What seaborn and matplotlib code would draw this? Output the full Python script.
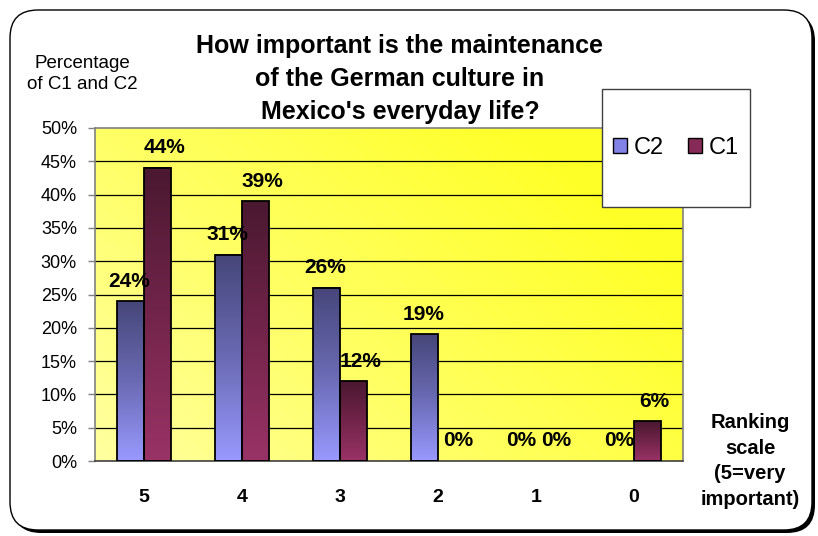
import numpy as np
import pandas as pd
import matplotlib
matplotlib.use("Agg")
import matplotlib.pyplot as plt
import seaborn as sns
from matplotlib.patches import FancyBboxPatch, Rectangle, Patch
from matplotlib.colors import LinearSegmentedColormap

# Survey answers per ranking level (percent of respondents)
rankings = ["5", "4", "3", "2", "1", "0"]
c2_pct = [24, 31, 26, 19, 0, 0]
c1_pct = [44, 39, 12, 0, 0, 6]
series = ["C2", "C1"]
y_ticks = [0, 5, 10, 15, 20, 25, 30, 35, 40, 45, 50]

title = "How important is the maintenance\nof the German culture in\nMexico's everyday life?"
y_title = "Percentage\nof C1 and C2"
x_title = "Ranking\nscale\n(5=very\nimportant)"

sns.set_theme(style="white")
plt.rcParams["font.family"] = ["Liberation Sans", "DejaVu Sans"]
for key in ["text.color", "axes.labelcolor", "xtick.color", "ytick.color"]:
    plt.rcParams[key] = "black"

W, H = 818, 536
fig = plt.figure(figsize=(W / 100, H / 100), dpi=100)
fig.patch.set_facecolor("white")

# rounded chart frame with a drop shadow
shadow = FancyBboxPatch((13, 3), 802, 520, boxstyle="round,pad=0,rounding_size=28",
                        transform=None, facecolor="black", edgecolor="none", zorder=-2)
frame = FancyBboxPatch((10, 6), 802, 520, boxstyle="round,pad=0,rounding_size=28",
                       transform=None, facecolor="white", edgecolor="black",
                       linewidth=1.0, zorder=-1)
fig.patches.extend([shadow, frame])

ax = fig.add_axes([95 / W, 1 - 461 / H, (683 - 95) / W, (461 - 128) / H])

df = pd.DataFrame({
    "Ranking": rankings * 2,
    "Percent": c2_pct + c1_pct,
    "Group": [series[0]] * len(rankings) + [series[1]] * len(rankings),
})

sns.barplot(data=df, x="Ranking", y="Percent", hue="Group", order=rankings,
            hue_order=series, palette=["#9999ff", "#993366"], width=0.55,
            edgecolor="black", linewidth=1.3, ax=ax, legend=False, zorder=3)

ax.set_xlim(-0.5, len(rankings) - 0.5)
ax.set_ylim(0, 50)

# plot-area background: diagonal yellow gradient
bg_cmap = LinearSegmentedColormap.from_list("bg", ["#ffffa0", "#ffff60", "#ffff28"])
gx, gy = np.meshgrid(np.linspace(0, 1, 200), np.linspace(0, 1, 200))
ax.imshow(np.clip(gx * 0.75 + gy * 0.45, 0, 1), extent=[0, 1, 0, 1],
          transform=ax.transAxes, origin="lower", cmap=bg_cmap, aspect="auto",
          zorder=0, interpolation="bilinear")

# vertical gradient fill for each bar, value label above it
bar_cmaps = [
    LinearSegmentedColormap.from_list("c2", ["#9999ff", "#6a6ab4", "#46467a"]),
    LinearSegmentedColormap.from_list("c1", ["#993366", "#72244a", "#4a1830"]),
]
label_dx = [-1, 7]
grad = np.linspace(0, 1, 256).reshape(-1, 1)
for container, cmap, values, dx in zip(ax.containers, bar_cmaps, [c2_pct, c1_pct], label_dx):
    for bar, v in zip(container, values):
        x0, w, h = bar.get_x(), bar.get_width(), bar.get_height()
        if h > 0:
            ax.imshow(grad, extent=[x0, x0 + w, 0, h], origin="lower", cmap=cmap,
                      aspect="auto", zorder=2, interpolation="bilinear")
        else:
            bar.set_linewidth(0)
        bar.set_facecolor("none")
        ax.annotate(f"{v}%", (x0 + w / 2, h), xytext=(dx, 20), textcoords="offset pixels",
                    ha="center", va="center", fontsize=15, fontweight="bold",
                    color="black", zorder=5)

ax.set_xlim(-0.5, len(rankings) - 0.5)
ax.set_ylim(0, 50)

# horizontal gridlines
for t in y_ticks[1:-1]:
    ax.axhline(t, color="black", linewidth=0.9, zorder=1)

ax.set_yticks(y_ticks)
ax.set_yticklabels([f"{t}%" for t in y_ticks], fontsize=13)
ax.set_xticks(range(len(rankings)))
ax.set_xticklabels(rankings, fontsize=14, fontweight="bold")
ax.set_xticks(np.arange(-0.5, len(rankings)), minor=True)
ax.tick_params(axis="x", which="major", length=0, pad=20)
ax.tick_params(axis="x", which="minor", length=5, width=1, color="#808080", direction="out")
ax.tick_params(axis="y", which="major", length=5, width=1, color="#808080",
               direction="out", pad=8, left=True)
ax.set_xlabel("")
ax.set_ylabel("")
for side, sp in ax.spines.items():
    sp.set_visible(True)
    sp.set_color("#808080")
    sp.set_linewidth(1.2)
ax.spines["bottom"].set_color("#404040")

# titles
fig.text(400 / W, 1 - 79 / H, title, ha="center", va="center", fontsize=18,
         fontweight="bold", linespacing=1.5)
fig.text(82 / W, 1 - 74 / H, y_title, ha="center", va="center", fontsize=13.5,
         linespacing=1.3)
fig.text(750 / W, 1 - 461 / H, x_title, ha="center", va="center", fontsize=14.5,
         fontweight="bold", linespacing=1.45)

# legend box
fig.patches.append(Rectangle((602 / W, 1 - 207 / H), 148 / W, 118 / H,
                             transform=fig.transFigure, facecolor="white",
                             edgecolor="#404040", linewidth=1.0, zorder=4))
handles = [Patch(facecolor="#8282e6", edgecolor="black", linewidth=1.0),
           Patch(facecolor="#862a58", edgecolor="black", linewidth=1.0)]
fig.legend(handles, series, loc="center", bbox_to_anchor=(676 / W, 1 - 148 / H),
           ncol=2, frameon=False, fontsize=17, handlelength=0.6, handleheight=0.6,
           handletextpad=0.3, columnspacing=1.0)

fig.savefig("out.png", dpi=100)
